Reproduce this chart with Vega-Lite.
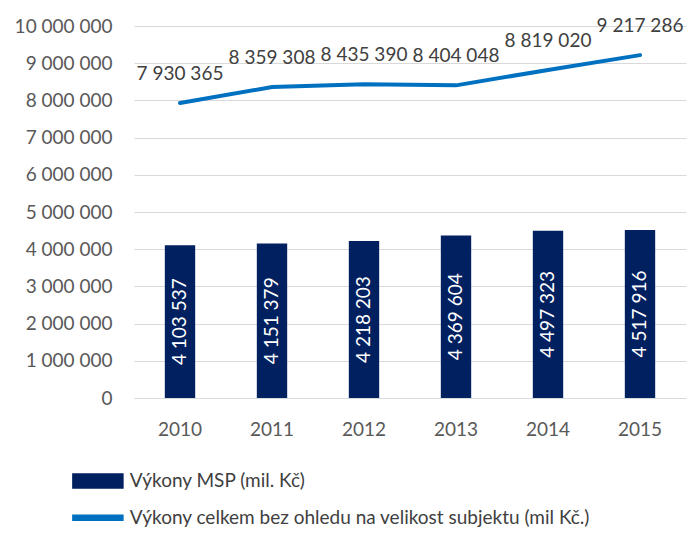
{
  "$schema": "https://vega.github.io/schema/vega-lite/v6.json",
  "width": 552,
  "height": 372,
  "autosize": {"type": "none"},
  "padding": {"left": 134, "top": 26, "right": 4, "bottom": 136},
  "background": "white",
  "config": {
    "locale": {"number": {"decimal": ",", "thousands": " ", "grouping": [3], "currency": ["", " Kč"]}},
    "view": {"stroke": null},
    "font": "Lato",
    "axis": {"labelFont": "Lato", "labelFontSize": 19, "labelColor": "#595959", "grid": false, "domain": false, "ticks": false, "labelOverlap": false},
    "axisY": {"tickCount": 10, "grid": true, "gridColor": "#d9d9d9", "gridWidth": 1, "labelPadding": 22, "labelOverlap": false}
  },
  "data": {
    "values": [
      {"year": "2010", "msp": 4103537, "total": 7930365},
      {"year": "2011", "msp": 4151379, "total": 8359308},
      {"year": "2012", "msp": 4218203, "total": 8435390},
      {"year": "2013", "msp": 4369604, "total": 8404048},
      {"year": "2014", "msp": 4497323, "total": 8819020},
      {"year": "2015", "msp": 4517916, "total": 9217286}
    ]
  },
  "encoding": {
    "x": {
      "field": "year", "type": "ordinal",
      "scale": {"paddingInner": 0.67, "paddingOuter": 0.335},
      "axis": {"title": null, "labelAngle": 0, "labelPadding": 22}
    }
  },
  "layer": [
    {
      "mark": {"type": "bar", "color": "#002060"},
      "encoding": {
        "y": {
          "field": "msp", "type": "quantitative",
          "scale": {"domain": [0, 10000000], "nice": false},
          "axis": {"title": null}
        },
        "color": {
          "datum": "Výkony MSP (mil. Kč)", "type": "nominal",
          "scale": {"domain": ["Výkony MSP (mil. Kč)", "Výkony celkem bez ohledu na velikost subjektu (mil Kč.)"], "range": ["#002060", "#0070c0"]},
          "legend": {
            "orient": "none", "legendX": -52.6, "legendY": 438.4, "direction": "vertical",
            "title": null, "padding": 0, "rowPadding": 9.8, "symbolSize": 976, "labelOffset": 15.4,
            "labelFontSize": 19, "labelColor": "#404040", "labelFont": "Lato", "labelLimit": 600,
            "encode": {
              "symbols": {
                "update": {
                  "shape": {"signal": "datum.value == 'Výkony MSP (mil. Kč)' ? 'M-1.6,-0.448H1.6V0.448H-1.6Z' : 'M-1.6,-0.16H1.6V0.16H-1.6Z'"},
                  "fill": {"signal": "datum.value == 'Výkony MSP (mil. Kč)' ? '#002060' : '#0070c0'"},
                  "stroke": {"value": "transparent"},
                  "opacity": {"value": 1}
                }
              }
            }
          }
        }
      }
    },
    {
      "transform": [{"calculate": "datum.msp / 2", "as": "mid"}],
      "mark": {"type": "text", "angle": 270, "color": "white", "fontSize": 19, "font": "Lato", "baseline": "middle", "align": "center"},
      "encoding": {
        "y": {"field": "mid", "type": "quantitative", "axis": {"title": null}},
        "text": {"field": "msp", "type": "quantitative", "format": ",d"}
      }
    },
    {
      "mark": {"type": "line", "strokeWidth": 4, "strokeCap": "round"},
      "encoding": {
        "y": {"field": "total", "type": "quantitative", "axis": {"title": null}},
        "color": {"datum": "Výkony celkem bez ohledu na velikost subjektu (mil Kč.)", "type": "nominal"}
      }
    },
    {
      "mark": {"type": "text", "dy": -29, "fontSize": 19, "font": "Lato", "color": "#404040", "baseline": "middle", "align": "center"},
      "encoding": {
        "y": {"field": "total", "type": "quantitative", "axis": {"title": null}},
        "text": {"field": "total", "type": "quantitative", "format": ",d"}
      }
    }
  ]
}
